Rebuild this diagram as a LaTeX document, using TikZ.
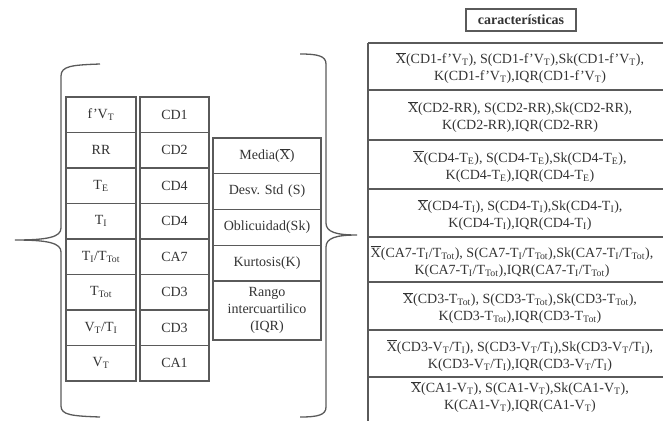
\documentclass[tikz,border=0pt]{standalone}
\usepackage{fontspec}
\setmainfont{Liberation Serif}
\frenchspacing
\newcommand\sbs[1]{\textsubscript{#1}}
\newcommand\xb{\ensuremath{\overline{\mbox{X}}}}
\newcommand\fv{f'V\sbs{T}}
\definecolor{linec}{HTML}{5A5A5A}
\definecolor{textc}{HTML}{333333}
\begin{document}
\begin{tikzpicture}[x=1pt,y=-1pt,
  font=\fontsize{14}{17}\selectfont,
  grid/.style={draw=linec, line width=1.2pt},
  cell/.style={grid, draw, inner sep=0pt, text=textc, align=center},
  cone/.style={cell, minimum width=70pt, minimum height=35.5pt},
  ctwo/.style={cell, minimum width=69pt, minimum height=35.5pt},
  stat/.style={cell, minimum width=108pt, text width=104pt},
  feat/.style={text=textc, align=center, inner sep=0pt},
  brace/.style={draw=linec, line width=1.3pt}]
\useasboundingbox (0,0) rectangle (663,421);

% column 1
\node[cone] (a1) at (101,114.75) {\fv};
\node[cone] (a2) at (101,150.25) {RR};
\node[cone] (a3) at (101,185.75) {T\sbs{E}};
\node[cone] (a4) at (101,221.25) {T\sbs{I}};
\node[cone] (a5) at (101,256.75) {T\sbs{I}/T\sbs{Tot}};
\node[cone] (a6) at (101,292.25) {T\sbs{Tot}};
\node[cone] (a7) at (101,327.75) {V\sbs{T}/T\sbs{I}};
\node[cone] (a8) at (101,363.25) {V\sbs{T}};
% column 2
\node[ctwo] (b1) at (174.5,114.75) {CD1};
\node[ctwo] (b2) at (174.5,150.25) {CD2};
\node[ctwo] (b3) at (174.5,185.75) {CD4};
\node[ctwo] (b4) at (174.5,221.25) {CD4};
\node[ctwo] (b5) at (174.5,256.75) {CA7};
\node[ctwo] (b6) at (174.5,292.25) {CD3};
\node[ctwo] (b7) at (174.5,327.75) {CD3};
\node[ctwo] (b8) at (174.5,363.25) {CA1};
% column 3
\node[stat, minimum height=35.75pt] (s1) at (267,155.9) {Media(\xb)};
\node[stat, minimum height=35.75pt] (s2) at (267,191.6) {Desv. Std (S)};
\node[stat, minimum height=35.75pt] (s3) at (267,227.4) {Oblicuidad(Sk)};
\node[stat, minimum height=35.75pt] (s4) at (267,263.1) {Kurtosis(K)};
\node[stat, minimum height=59pt] (s5) at (267,310.5) {Rango\\intercuartilico\\(IQR)};

% left brace
\coordinate (lt) at (100,64);
\coordinate (lc) at (15,240);
\coordinate (lb) at (100,417);
\draw[brace] (lt) .. controls (72,65) and (61,66) .. (61,76) -- (61,228)
  .. controls (61,237) and (48,240) .. (lc)
  .. controls (48,240) and (61,243) .. (61,252) -- (61,406)
  .. controls (61,415) and (72,416) .. (lb);
% right brace
\coordinate (rt) at (300,54);
\coordinate (rc) at (357,235);
\coordinate (rb) at (300,417);
\draw[brace] (rt) .. controls (318,54) and (326,56) .. (326,64) -- (326,223)
  .. controls (326,232) and (336,235) .. (rc)
  .. controls (336,235) and (326,238) .. (326,247) -- (326,407)
  .. controls (326,415) and (318,417) .. (rb);

% title
\node[cell, minimum width=110pt, minimum height=22pt, font=\fontsize{14}{17}\selectfont\bfseries] (title) at (521,20) {características};

% right table grid
\coordinate (gt) at (368,43);
\coordinate (gb) at (368,421);
\draw[grid] (gt) -- (gb);
\foreach \y in {43,90,140,189,237,282,330,377}
  \draw[grid] (368,\y) -- (663,\y);

% right table text
\node[feat] (f1) at (520,68) {\xb(CD1-\fv), S(CD1-\fv),Sk(CD1-\fv),\\K(CD1-\fv),IQR(CD1-\fv)};
\node[feat] (f2) at (520,117) {\xb(CD2-RR), S(CD2-RR),Sk(CD2-RR),\\K(CD2-RR),IQR(CD2-RR)};
\node[feat] (f3) at (520,166.5) {\xb(CD4-T\sbs{E}), S(CD4-T\sbs{E}),Sk(CD4-T\sbs{E}),\\K(CD4-T\sbs{E}),IQR(CD4-T\sbs{E})};
\node[feat] (f4) at (520,215) {\xb(CD4-T\sbs{I}), S(CD4-T\sbs{I}),Sk(CD4-T\sbs{I}),\\K(CD4-T\sbs{I}),IQR(CD4-T\sbs{I})};
\node[feat] (f5) at (512,261.5) {\xb(CA7-T\sbs{I}/T\sbs{Tot}), S(CA7-T\sbs{I}/T\sbs{Tot}),Sk(CA7-T\sbs{I}/T\sbs{Tot}),\\K(CA7-T\sbs{I}/T\sbs{Tot}),IQR(CA7-T\sbs{I}/T\sbs{Tot})};
\node[feat] (f6) at (520,308) {\xb(CD3-T\sbs{Tot}), S(CD3-T\sbs{Tot}),Sk(CD3-T\sbs{Tot}),\\K(CD3-T\sbs{Tot}),IQR(CD3-T\sbs{Tot})};
\node[feat] (f7) at (520,355.5) {\xb(CD3-V\sbs{T}/T\sbs{I}), S(CD3-V\sbs{T}/T\sbs{I}),Sk(CD3-V\sbs{T}/T\sbs{I}),\\K(CD3-V\sbs{T}/T\sbs{I}),IQR(CD3-V\sbs{T}/T\sbs{I})};
\node[feat] (f8) at (520,397) {\xb(CA1-V\sbs{T}), S(CA1-V\sbs{T}),Sk(CA1-V\sbs{T}),\\K(CA1-V\sbs{T}),IQR(CA1-V\sbs{T})};
\end{tikzpicture}
\end{document}
